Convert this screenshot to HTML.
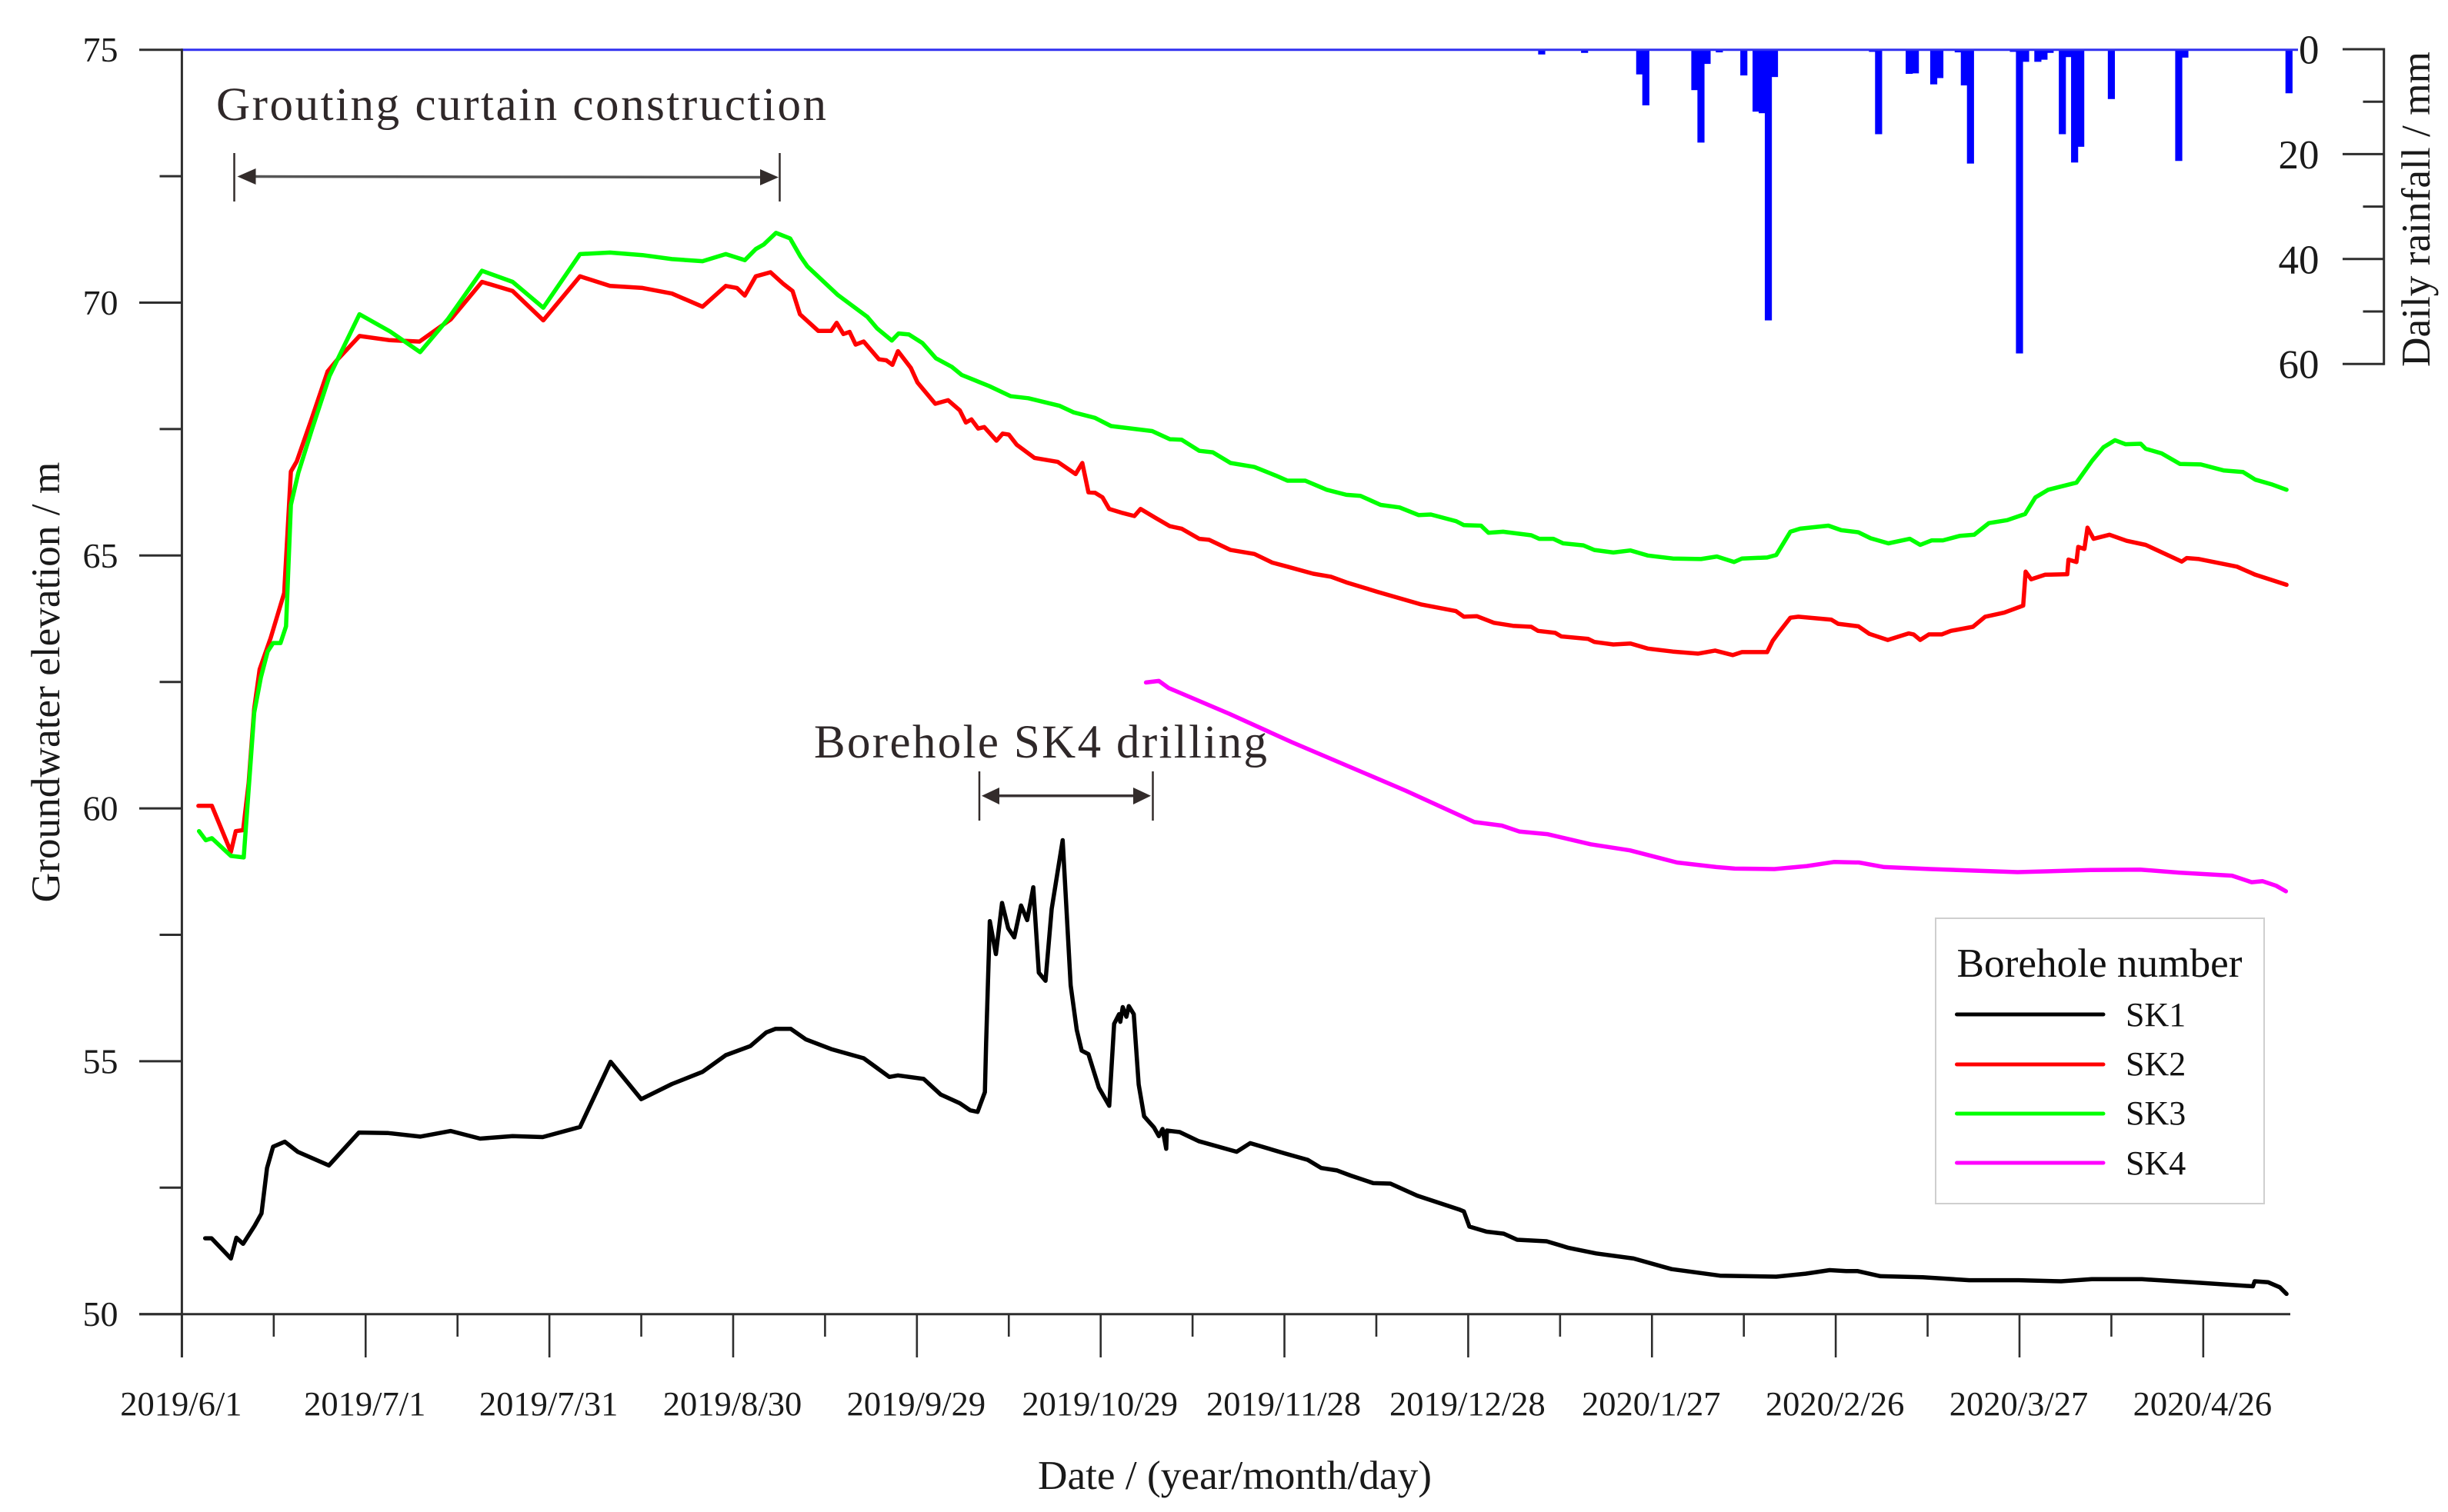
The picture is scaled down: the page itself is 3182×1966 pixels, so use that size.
<!DOCTYPE html>
<html lang="en">
<head>
<meta charset="utf-8">
<title>Groundwater elevation and daily rainfall</title>
<style>
  html, body { margin: 0; padding: 0; background: #fff; }
  svg { display: block; font-family: "Liberation Serif", "Times New Roman", serif; }
</style>
</head>
<body>
<svg id="chart" xmlns="http://www.w3.org/2000/svg" width="3182" height="1966" viewBox="0 0 3182 1966">
  <rect width="3182" height="1966" fill="#fff"/>
  <g id="rain-layer"></g>
  <g id="axis-layer"></g>
  <g id="series-layer"></g>

  <text transform="translate(77,887) rotate(-90)" text-anchor="middle" font-size="53.3" fill="#1a1a1a">Groundwater elevation / m</text>
  <text transform="translate(3158,272) rotate(-90)" text-anchor="middle" font-size="53.3" fill="#1a1a1a">Daily rainfall / mm</text>
  <text x="1605" y="1936" text-anchor="middle" font-size="53.3" fill="#1a1a1a">Date / (year/month/day)</text>

  <g>
    <text x="281" y="156" font-size="61" fill="#2f2829" textLength="793" lengthAdjust="spacing">Grouting curtain construction</text>
    <line x1="304.5" y1="199" x2="304.5" y2="262" stroke="#332c2b" stroke-width="2.5"/>
    <line x1="1013.5" y1="199" x2="1013.5" y2="262" stroke="#332c2b" stroke-width="2.5"/>
    <line x1="325" y1="229.5" x2="995" y2="230.5" stroke="#555" stroke-width="3.5"/>
    <polygon points="308.5,229.5 332.5,219 332.5,240" fill="#332c2b"/>
    <polygon points="1012,230.5 988,220 988,241" fill="#332c2b"/>
  </g>

  <g>
    <text x="1058" y="985" font-size="61" fill="#2f2829" textLength="589" lengthAdjust="spacing">Borehole SK4 drilling</text>
    <line x1="1273" y1="1003" x2="1273" y2="1067" stroke="#332c2b" stroke-width="2.5"/>
    <line x1="1498.5" y1="1003" x2="1498.5" y2="1067" stroke="#332c2b" stroke-width="2.5"/>
    <line x1="1292" y1="1034.7" x2="1480" y2="1034.7" stroke="#3a3334" stroke-width="3.5"/>
    <polygon points="1276,1034.7 1299,1024 1299,1046" fill="#332c2b"/>
    <polygon points="1496,1034.7 1473,1024 1473,1046" fill="#332c2b"/>
  </g>

  <g>
    <rect x="2516" y="1194" width="427" height="371" fill="#fff" stroke="#cfcfcf" stroke-width="2"/>
    <text x="2543.5" y="1270" font-size="53" fill="#111" textLength="371" lengthAdjust="spacingAndGlyphs">Borehole number</text>
    <line x1="2543.5" y1="1319" x2="2734" y2="1319" stroke="#000" stroke-width="5" stroke-linecap="round"/>
    <text x="2763" y="1334" font-size="44" fill="#111">SK1</text>
    <line x1="2543.5" y1="1384" x2="2734" y2="1384" stroke="#ff0000" stroke-width="5" stroke-linecap="round"/>
    <text x="2763" y="1398" font-size="44" fill="#111">SK2</text>
    <line x1="2543.5" y1="1448" x2="2734" y2="1448" stroke="#00ff00" stroke-width="5" stroke-linecap="round"/>
    <text x="2763" y="1462" font-size="44" fill="#111">SK3</text>
    <line x1="2543.5" y1="1512" x2="2734" y2="1512" stroke="#ff00ff" stroke-width="5" stroke-linecap="round"/>
    <text x="2763" y="1527" font-size="44" fill="#111">SK4</text>
  </g>
</svg>

<script>
// Axis tick data
const dateLabels = ["2019/6/1","2019/7/1","2019/7/31","2019/8/30","2019/9/29","2019/10/29","2019/11/28","2019/12/28","2020/1/27","2020/2/26","2020/3/27","2020/4/26"];
const minorTickDays = [15,45,75,105,135,165,195,225,255,285,315];
const elevationMajorTicks = [50,55,60,65,70,75];
const elevationMinorTicks = [52.5,57.5,62.5,67.5,72.5];
const rainMajorTicks = [0,20,40,60];
const rainMinorTicks = [10,30,50];

// Rainfall: days since 2019/6/1, and mm
const rainDays = [222,229,238,239,247,248,249,251,255,257,258,259,260,276,277,282,283,286,287,290,291,292,299,300,301,303,304,305,307,308,309,310,315,326,327,344];
const rainMm = [1,0.7,4.8,10.7,7.8,17.8,2.8,0.6,5,11.9,12.2,51.7,5.3,0.5,16.2,4.7,4.6,6.7,5.5,0.6,6.9,21.8,0.5,58,2.4,2.4,2,0.7,16.2,1.5,21.6,18.6,9.5,21.3,1.6,8.4];

// SK1
const sk1Days = [3.8,4.85,8,8.9,10,11.9,13,13.9,14.9,16.8,18.9,24,28.9,33.7,38.9,43.9,48.7,54,58.9,65,70,75,80,85,88.8,92.8,95.4,96.9,99.4,101.9,106,111.3,115.5,116.9,121.1,123.9,127,128.7,129.9,131.1,131.3,131.9,132.9,133.9,134.9,135.9,137,138,139,139.9,141,142,143.8,145.1,146.1,146.9,148,149.7,151.4,152.2,153,153.2,153.6,154.2,154.6,155.4,156.2,157.1,158.7,159.5,160.1,160.7,160.8,162.9,166,172.2,174.4,180,183.8,186,188.6,190.8,194.5,197.3,201.7,208.5,209.3,210.2,213,215.8,218,222.8,226.4,230.9,237,243.2,251.1,260.3,265.1,269,271.7,273.6,277.3,284.2,291.8,299.9,306.8,311.8,320,328.1,338.1,338.4,340.6,342.5,343.6];
const sk1Levels = [51.5,51.5,51.1,51.51,51.39,51.75,51.99,52.89,53.31,53.41,53.21,52.94,53.59,53.58,53.51,53.62,53.47,53.52,53.5,53.7,54.99,54.25,54.55,54.79,55.12,55.3,55.57,55.64,55.64,55.43,55.24,55.06,54.69,54.72,54.65,54.34,54.17,54.03,54,54.39,55.36,57.77,57.12,58.13,57.63,57.45,58.08,57.79,58.44,56.75,56.59,58.01,59.37,56.5,55.62,55.21,55.14,54.48,54.12,55.74,55.93,55.78,56.07,55.88,56.09,55.93,54.54,53.91,53.69,53.52,53.66,53.27,53.63,53.6,53.42,53.21,53.38,53.18,53.05,52.89,52.84,52.74,52.59,52.58,52.34,52.07,52.03,51.73,51.63,51.59,51.47,51.44,51.31,51.2,51.1,50.89,50.76,50.74,50.8,50.87,50.85,50.85,50.75,50.73,50.67,50.67,50.65,50.69,50.69,50.63,50.55,50.65,50.63,50.53,50.4];

// SK2
const sk2Days = [2.7,4.9,8,8.8,10,10.9,11.8,12.7,14.5,16.7,17.8,18.75,21.2,23.8,25.3,29,33.8,38.8,43.9,49,54,59,65,69.9,75.2,80,85,88.8,90.6,91.9,93.7,96.1,98.1,99.7,100.9,103.9,106,106.9,108,109,110,111.3,113.8,115,116,116.9,119,120.1,123,125.1,127,128,128.9,130,131,133,134,135,136.3,139.2,143,145.9,147,148,149.1,150.3,151.4,153.6,155.5,156.5,159,161.3,163.2,166.1,167.7,171.2,175.1,178,180.5,184.7,187.6,190.1,195.2,202.4,208,209.3,211.4,214.2,217.3,220.3,221.4,224.2,225.2,229.6,230.6,233.7,236.5,239.3,243.4,247.5,250.3,253.2,254.7,258.8,259.7,260.6,262.6,263.9,269.3,270.4,273.7,275.5,278.5,281.9,282.7,283.8,285.2,287.3,288.8,292.4,294.4,297.5,300.6,301,301.9,304.2,307.8,308,309.3,309.6,310.6,311.1,312.1,314.7,317.5,320.6,326.5,327.3,329.3,335.5,338.5,343.6];
const sk2Levels = [60.05,60.05,59.14,59.55,59.57,60.5,61.97,62.75,63.37,64.26,66.66,66.86,67.71,68.64,68.86,69.34,69.26,69.23,69.67,70.41,70.23,69.65,70.52,70.33,70.29,70.18,69.92,70.33,70.29,70.14,70.52,70.6,70.38,70.23,69.77,69.44,69.44,69.6,69.38,69.42,69.17,69.23,68.88,68.86,68.77,69.04,68.71,68.42,68,68.07,67.87,67.63,67.69,67.51,67.54,67.27,67.41,67.39,67.19,66.93,66.85,66.61,66.83,66.25,66.24,66.15,65.92,65.84,65.78,65.92,65.74,65.58,65.53,65.33,65.31,65.11,65.03,64.86,64.78,64.64,64.58,64.47,64.28,64.03,63.9,63.79,63.8,63.67,63.61,63.59,63.51,63.47,63.4,63.35,63.29,63.24,63.26,63.16,63.1,63.06,63.12,63.03,63.09,63.09,63.31,63.46,63.77,63.79,63.73,63.65,63.6,63.45,63.33,63.46,63.44,63.33,63.44,63.44,63.51,63.59,63.79,63.87,64.01,64.68,64.53,64.62,64.63,64.92,64.87,65.17,65.13,65.55,65.33,65.41,65.29,65.21,64.88,64.95,64.93,64.78,64.62,64.42];

// SK3
const sk3Days = [2.8,3.9,4.9,8,10.1,11.8,12.9,14,14.9,16.1,17,17.8,19,21.2,24.1,29,34,38.9,43.4,49,54,59,65,69.9,75.2,80,85,88.8,91.9,93.7,95,97,99.3,101,102.1,107.1,111.9,113.5,115.9,117,118.7,120.9,123.1,125.7,127.3,131.8,135.3,138.2,143.3,145.6,149.1,151.7,158.4,161.3,163.2,166.1,168.3,171.2,175.1,178.6,180.5,183.4,186.9,190.1,192.4,195.7,198.8,201.9,203.9,208,209.3,212.1,213.3,215.7,220.3,221.6,223.9,225.5,228.8,230.6,233.7,236.5,239.3,243.4,248,250.6,253.4,254.7,258.8,260.3,262.6,264.2,268.8,270.9,273.7,275.7,278.6,282.1,283.8,285.7,287.5,290.3,292.6,295,298,300.9,302.6,304.7,309.3,311.9,313.7,315.6,317.3,319.8,320.6,323.2,326.2,329.6,333.4,336.5,338.5,341.1,343.6];
const sk3Levels = [59.55,59.37,59.41,59.06,59.03,61.89,62.59,63.1,63.27,63.27,63.6,66,66.63,67.48,68.55,69.77,69.43,69.02,69.67,70.63,70.41,69.9,70.96,70.99,70.94,70.86,70.82,70.96,70.84,71.06,71.15,71.38,71.27,70.91,70.72,70.15,69.72,69.49,69.25,69.39,69.37,69.2,68.9,68.73,68.57,68.35,68.15,68.11,67.96,67.83,67.72,67.56,67.46,67.3,67.29,67.07,67.04,66.83,66.75,66.58,66.48,66.48,66.3,66.2,66.18,66,65.95,65.8,65.81,65.68,65.6,65.59,65.45,65.47,65.4,65.33,65.33,65.24,65.2,65.11,65.06,65.1,65,64.94,64.93,64.98,64.87,64.94,64.96,65.01,65.47,65.53,65.59,65.5,65.46,65.34,65.24,65.33,65.21,65.3,65.3,65.39,65.41,65.64,65.7,65.82,66.15,66.3,66.44,66.88,67.14,67.28,67.2,67.21,67.11,67.02,66.81,66.8,66.68,66.65,66.5,66.41,66.3];

// SK4
const sk4Days = [157.4,159.5,161.1,171,181.2,199.8,211,215.5,218.4,222.9,230,236.4,244.1,250.5,253.5,260,265.3,269.7,273.8,277.9,285.4,299.7,311.6,319.7,326,334.7,337.9,339.7,341.9,343.5];
const sk4Levels = [62.49,62.52,62.38,61.87,61.31,60.35,59.73,59.66,59.54,59.49,59.29,59.17,58.93,58.84,58.81,58.8,58.86,58.94,58.93,58.84,58.8,58.74,58.78,58.79,58.73,58.67,58.54,58.56,58.47,58.36];

const SVG_NS = "http://www.w3.org/2000/svg";
function xScale(day) { return 236.4 + day * 7.962; }
function yScale(level) { return 64.7 + (75 - level) * 65.76; }
function rainScale(mm) { return 64 + mm * 6.82; }

function svgEl(tag, attrs, parent) {
  const el = document.createElementNS(SVG_NS, tag);
  for (const k in attrs) el.setAttribute(k, attrs[k]);
  parent.appendChild(el);
  return el;
}

const rainLayer = document.getElementById("rain-layer");
const axisLayer = document.getElementById("axis-layer");
const seriesLayer = document.getElementById("series-layer");
const AXIS = "#2e2e2e";

// Rain bars
rainDays.forEach(function (day, i) {
  const bar = svgEl("rect", {
    x: xScale(day) - 4.6,
    y: rainScale(0),
    width: 9.2,
    height: rainScale(rainMm[i]) - rainScale(0),
    fill: "#0000ff"
  }, rainLayer);
  
  
});

// Top blue baseline
const topLine = svgEl("line", { x1: 236, y1: 64.7, x2: 2987, y2: 64.7, stroke: "#3030f0", "stroke-width": 3 }, rainLayer);



// Left axis
const leftAxis = svgEl("line", { x1: xScale(0), y1: yScale(75) - 1.5, x2: xScale(0), y2: 1765, stroke: AXIS, "stroke-width": 3 }, axisLayer);



elevationMajorTicks.forEach(function (v) {
  const tick = svgEl("line", { x1: 181, y1: yScale(v), x2: xScale(0), y2: yScale(v), stroke: AXIS, "stroke-width": 3 }, axisLayer);
  
  
  const label = svgEl("text", { x: 153.5, y: yScale(v) + 15.5, "text-anchor": "end", "font-size": 46, fill: "#1a1a1a" }, axisLayer);
  label.textContent = String(v);
  
  
});
elevationMinorTicks.forEach(function (v) {
  const tick = svgEl("line", { x1: 207.5, y1: yScale(v), x2: xScale(0), y2: yScale(v), stroke: AXIS, "stroke-width": 3 }, axisLayer);
  
  
});

// Bottom axis
const bottomAxis = svgEl("line", { x1: 181, y1: yScale(50), x2: 2977, y2: yScale(50), stroke: AXIS, "stroke-width": 3 }, axisLayer);



dateLabels.forEach(function (text, i) {
  const day = i * 30;
  const tick = svgEl("line", { x1: xScale(day), y1: yScale(50), x2: xScale(day), y2: 1765, stroke: AXIS, "stroke-width": 2.6 }, axisLayer);
  
  
  const label = svgEl("text", { x: xScale(day) - 1, y: 1840, "text-anchor": "middle", "font-size": 44.5, fill: "#1a1a1a" }, axisLayer);
  label.textContent = text;
  
  
});
minorTickDays.forEach(function (day) {
  const minor = svgEl("line", { x1: xScale(day), y1: yScale(50), x2: xScale(day), y2: 1738, stroke: AXIS, "stroke-width": 2.6 }, axisLayer);
  
  
});

// Right rainfall axis
const rightAxis = svgEl("line", { x1: 3098.7, y1: rainScale(0) - 1.5, x2: 3098.7, y2: rainScale(60) + 1.5, stroke: AXIS, "stroke-width": 3 }, axisLayer);



rainMajorTicks.forEach(function (mm) {
  const tick = svgEl("line", { x1: 3045, y1: rainScale(mm), x2: 3098.7, y2: rainScale(mm), stroke: AXIS, "stroke-width": 3 }, axisLayer);
  
  
  const label = svgEl("text", { x: 3014.5, y: rainScale(mm) + 18.5, "text-anchor": "end", "font-size": 53, fill: "#1a1a1a" }, axisLayer);
  label.textContent = String(mm);
  
  
});
rainMinorTicks.forEach(function (mm) {
  const tick = svgEl("line", { x1: 3071.5, y1: rainScale(mm), x2: 3098.7, y2: rainScale(mm), stroke: AXIS, "stroke-width": 3 }, axisLayer);
  
  
});

// Series lines
function linePoints(days, levels) {
  return days.map(function (d, i) { return xScale(d).toFixed(1) + "," + yScale(levels[i]).toFixed(1); }).join(" ");
}
function styleLine(color) {
  return { fill: "none", stroke: color, "stroke-width": 5.5, "stroke-linejoin": "round", "stroke-linecap": "round" };
}

const sk1Line = svgEl("polyline", Object.assign({ points: linePoints(sk1Days, sk1Levels) }, styleLine("#000000")), seriesLayer);



const sk2Line = svgEl("polyline", Object.assign({ points: linePoints(sk2Days, sk2Levels) }, styleLine("#ff0000")), seriesLayer);



const sk3Line = svgEl("polyline", Object.assign({ points: linePoints(sk3Days, sk3Levels) }, styleLine("#00ff00")), seriesLayer);



const sk4Line = svgEl("polyline", Object.assign({ points: linePoints(sk4Days, sk4Levels) }, styleLine("#ff00ff")), seriesLayer);


</script>
</body>
</html>
